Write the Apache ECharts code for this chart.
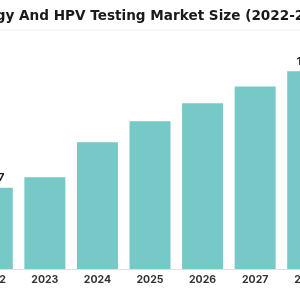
<!DOCTYPE html>
<html>
<head>
<meta charset="utf-8">
<script src="https://cdn.jsdelivr.net/npm/echarts@6/dist/echarts.min.js"></script>
<style>
  html, body { margin: 0; padding: 0; background: #fff; overflow: hidden; }
  /* the reference is a crop of a wider chart, so the canvas is wider and shifted left */
  #chart { width: 440px; height: 300px; margin-left: -70px; }
</style>
</head>
<body>
<div id="chart"></div>
<script>
const titleText = "Cytology And HPV Testing Market Size (2022-2032)";
const years = ["2022", "2023", "2024", "2025", "2026", "2027", "2028"];
const marketSize = [5.47, 6.17, 8.52, 9.93, 11.14, 12.28, 13.3];
// only first and last bars carry a value label
const labelled = ["2022", "2028"];

let chart = echarts.init(document.getElementById("chart"));

const options = {
  animation: false,
  title: {
    text: titleText,
    left: 12,
    top: 4,
    textStyle: {
      fontFamily: "DejaVu Sans",
      fontWeight: "bold",
      fontSize: 13.6,
      color: "#1a1a1a"
    }
  },
  graphic: [
    {
      type: "line",
      shape: { x1: 0, y1: 30, x2: 440, y2: 30 },
      style: { stroke: "#eef3f3", lineWidth: 1 }
    }
  ],
  grid: {
    left: 36,
    right: 36,
    top: 40,
    bottom: 31
  },
  xAxis: {
    type: "category",
    data: years,
    axisLine: {
      show: true,
      lineStyle: { color: "#e0e0e0" }
    },
    axisTick: { show: false },
    axisLabel: {
      color: "#333",
      fontSize: 10.5,
      fontWeight: "bold",
      fontFamily: "Inter",
      margin: 5
    }
  },
  yAxis: {
    type: "value",
    min: 0,
    max: 15.4,
    show: false,
    splitLine: { show: false }
  },
  series: [
    {
      type: "bar",
      data: marketSize,
      barWidth: 41,
      itemStyle: { color: "#76c9c6" },
      label: {
        show: true,
        position: "top",
        distance: 4,
        color: "#1a1a1a",
        fontSize: 11,
        fontWeight: "bold",
        fontFamily: "Inter",
        formatter: function (p) {
          return labelled.indexOf(p.name) >= 0 ? p.value : "";
        }
      }
    }
  ]
};

chart.setOption(options);
</script>
</body>
</html>
